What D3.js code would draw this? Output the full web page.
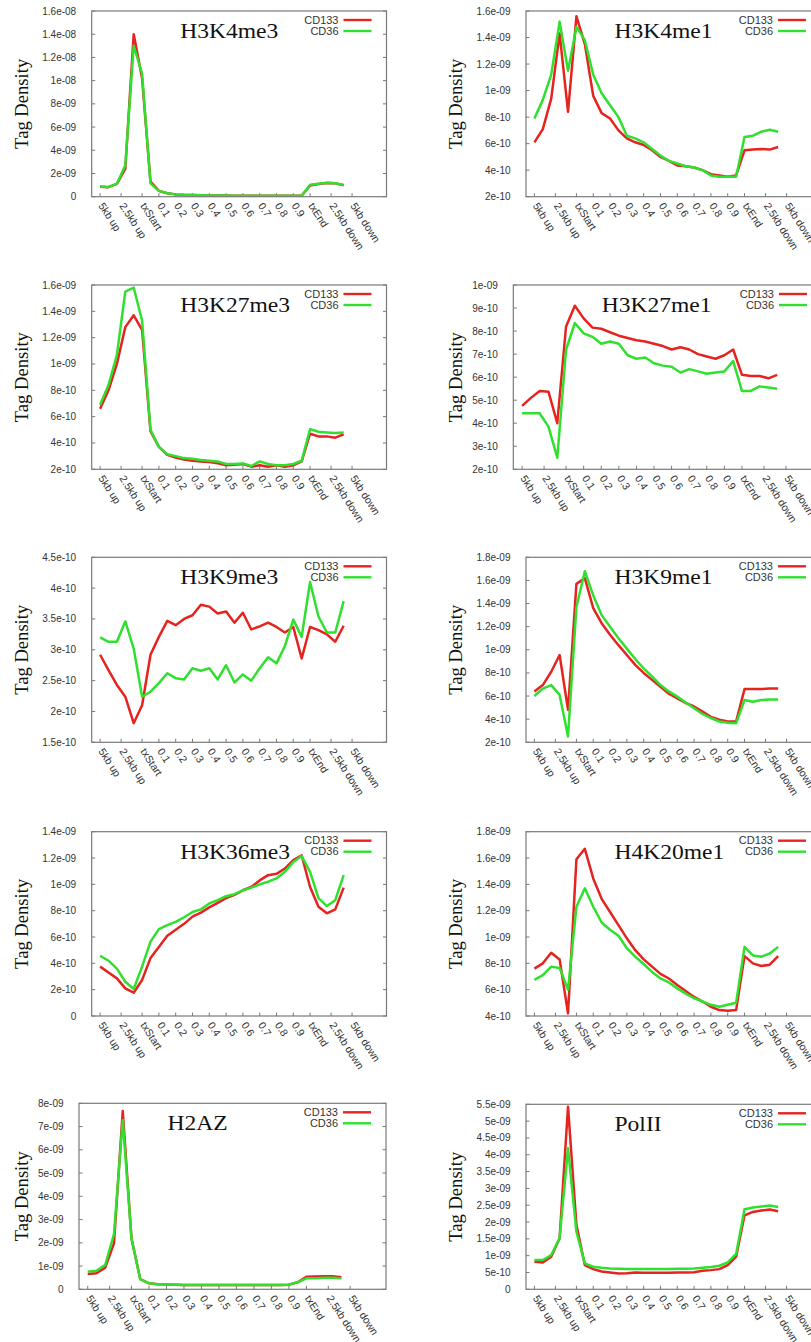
<!DOCTYPE html>
<html>
<head>
<meta charset="utf-8">
<script src="https://cdn.jsdelivr.net/npm/d3@7"></script>
<style>
  html, body { margin: 0; padding: 0; background: #fff; }
  svg { display: block; }
</style>
</head>
<body>
<svg id="chart" width="811" height="1342"></svg>
<script>
// Tag density profiles along gene models: 5 kb upstream (1 kb bins), gene body (20 bins),
// 5 kb downstream (1 kb bins). Values are in units of 1e-10.

const xTickLabels = ["5kb up", "2.5kb up", "txStart", "0.1", "0.2", "0.3", "0.4", "0.5",
  "0.6", "0.7", "0.8", "0.9", "txEnd", "2.5kb down", "5kb down"];
const xTickPositions = [0, 2.5, 5, 7, 9, 11, 13, 15, 17, 19, 21, 23, 25, 27.5, 30];

const seriesNames = ["CD133", "CD36"];
const markNames = ["H3K4me3", "H3K4me1", "H3K27me3", "H3K27me1", "H3K9me3",
  "H3K9me1", "H3K36me3", "H4K20me1", "H2AZ", "PolII"];

const h3k4me3CD133 = [8.6, 8.2, 11, 24, 140, 102, 13, 5, 3, 2, 1.6, 1.4, 1.2, 1.1, 1.0, 1.0, 0.9, 0.9, 0.9, 0.8, 0.8, 0.8, 0.8, 0.8, 0.8, 9.6, 11, 11.8, 11.5, 9.8];
const h3k4me3CD36 = [8.8, 8.3, 11.2, 27, 130, 106, 11.5, 5, 3, 2, 1.6, 1.4, 1.2, 1.1, 1.0, 1.0, 0.9, 0.9, 0.9, 0.8, 0.8, 0.8, 0.8, 0.8, 0.8, 10.2, 11.2, 12, 11.6, 10.2];

const h3k4me1CD133 = [6.1, 7.1, 9.4, 14.3, 8.4, 15.6, 13.5, 9.6, 8.3, 7.9, 7.0, 6.4, 6.1, 5.9, 5.5, 5.0, 4.7, 4.35, 4.3, 4.2, 4.0, 3.7, 3.6, 3.5, 3.6, 5.5, 5.55, 5.6, 5.55, 5.75];
const h3k4me1CD36 = [7.9, 9.3, 11.2, 15.2, 11.5, 14.8, 13.8, 11.2, 9.8, 8.9, 8.0, 6.6, 6.4, 6.1, 5.6, 5.1, 4.7, 4.5, 4.3, 4.2, 4.0, 3.6, 3.5, 3.5, 3.5, 6.5, 6.6, 6.9, 7.05, 6.9];

const h3k27me3CD133 = [6.6, 8.0, 10.0, 12.8, 13.7, 12.6, 4.9, 3.7, 3.1, 2.9, 2.75, 2.65, 2.6, 2.55, 2.45, 2.3, 2.35, 2.4, 2.2, 2.3, 2.2, 2.3, 2.2, 2.3, 2.6, 4.7, 4.5, 4.5, 4.4, 4.65];
const h3k27me3CD36 = [6.9, 8.4, 10.7, 15.5, 15.8, 13.3, 5.0, 3.7, 3.15, 3.0, 2.85, 2.8, 2.7, 2.65, 2.6, 2.4, 2.4, 2.45, 2.25, 2.6, 2.4, 2.3, 2.3, 2.4, 2.65, 5.05, 4.85, 4.8, 4.75, 4.8];

const h3k27me1CD133 = [4.75, 5.1, 5.4, 5.37, 4.0, 8.2, 9.1, 8.55, 8.15, 8.1, 7.95, 7.8, 7.7, 7.6, 7.55, 7.45, 7.35, 7.2, 7.3, 7.2, 7.0, 6.9, 6.8, 6.95, 7.2, 6.1, 6.05, 6.05, 5.95, 6.1];
const h3k27me1CD36 = [4.43, 4.43, 4.43, 3.85, 2.5, 7.2, 8.35, 7.9, 7.75, 7.45, 7.55, 7.45, 6.95, 6.8, 6.85, 6.6, 6.5, 6.45, 6.2, 6.35, 6.25, 6.15, 6.2, 6.25, 6.7, 5.4, 5.4, 5.6, 5.55, 5.5];

const h3k9me3CD133 = [2.92, 2.67, 2.43, 2.24, 1.81, 2.1, 2.92, 3.21, 3.47, 3.4, 3.5, 3.56, 3.73, 3.7, 3.59, 3.62, 3.44, 3.6, 3.33, 3.38, 3.44, 3.37, 3.28, 3.37, 2.86, 3.37, 3.32, 3.25, 3.13, 3.39];
const h3k9me3CD36 = [3.2, 3.13, 3.13, 3.46, 3.02, 2.24, 2.32, 2.46, 2.62, 2.54, 2.52, 2.7, 2.66, 2.7, 2.52, 2.75, 2.47, 2.6, 2.5, 2.7, 2.88, 2.78, 3.06, 3.49, 3.21, 4.1, 3.54, 3.28, 3.28, 3.79];

const h3k9me1CD133 = [6.4, 6.95, 8.1, 9.55, 4.8, 15.7, 16.2, 13.6, 12.3, 11.3, 10.4, 9.55, 8.7, 8.0, 7.4, 6.8, 6.2, 5.8, 5.4, 5.1, 4.65, 4.2, 3.95, 3.8, 3.8, 6.6, 6.6, 6.6, 6.65, 6.65];
const h3k9me1CD36 = [6.0, 6.65, 6.95, 6.1, 2.5, 13.7, 16.8, 14.7, 13.0, 12.0, 11.0, 10.1, 9.2, 8.4, 7.7, 6.95, 6.4, 5.95, 5.45, 4.95, 4.45, 4.1, 3.8, 3.7, 3.65, 5.65, 5.5, 5.65, 5.7, 5.7];

const h3k36me3CD133 = [3.75, 3.3, 2.86, 2.1, 1.77, 2.73, 4.4, 5.25, 6.1, 6.55, 7.0, 7.55, 7.85, 8.25, 8.6, 8.95, 9.2, 9.55, 9.8, 10.3, 10.7, 10.8, 11.2, 11.85, 12.2, 9.8, 8.3, 7.8, 8.1, 9.75];
const h3k36me3CD36 = [4.58, 4.2, 3.6, 2.6, 2.05, 3.75, 5.65, 6.6, 6.9, 7.15, 7.5, 7.9, 8.1, 8.55, 8.8, 9.1, 9.25, 9.55, 9.75, 10.0, 10.2, 10.45, 10.95, 11.7, 12.15, 10.95, 8.95, 8.35, 8.8, 10.7];

const h4k20me1CD133 = [7.6, 8.0, 8.8, 8.3, 4.2, 15.9, 16.7, 14.45, 12.9, 11.9, 10.9, 9.9, 9.0, 8.3, 7.75, 7.2, 6.85, 6.35, 5.9, 5.45, 5.1, 4.7, 4.45, 4.4, 4.45, 8.55, 8.0, 7.8, 7.9, 8.55];
const h4k20me1CD36 = [6.75, 7.1, 7.75, 7.65, 6.0, 12.3, 13.7, 12.3, 11.1, 10.55, 10.1, 9.15, 8.5, 7.95, 7.35, 6.85, 6.55, 6.1, 5.7, 5.35, 5.1, 4.85, 4.7, 4.85, 5.0, 9.25, 8.6, 8.5, 8.75, 9.25];

const h2azCD133 = [6.6, 6.9, 9.3, 19.8, 76.7, 21.9, 4.4, 2.6, 2.2, 2.1, 2.0, 1.9, 1.9, 1.9, 1.8, 1.8, 1.8, 1.8, 1.8, 1.8, 1.8, 1.8, 1.8, 2.0, 3.0, 5.4, 5.5, 5.6, 5.6, 5.2];
const h2azCD36 = [7.6, 8.0, 10.5, 23.7, 72.8, 21.9, 4.4, 2.6, 2.2, 2.1, 2.0, 1.9, 1.9, 1.9, 1.8, 1.8, 1.8, 1.8, 1.8, 1.8, 1.8, 1.8, 1.8, 2.0, 3.0, 4.7, 4.7, 5.0, 5.0, 4.7];

const polIICD133 = [8.2, 8.0, 9.7, 15.2, 54.3, 19.1, 7.2, 6.0, 5.3, 5.0, 4.7, 4.8, 5.0, 4.9, 4.9, 4.9, 4.9, 5.0, 5.0, 5.1, 5.5, 5.7, 6.0, 7.2, 9.7, 22.0, 23.0, 23.4, 23.7, 23.2];
const polIICD36 = [8.7, 8.7, 10.2, 15.2, 41.9, 17.1, 7.7, 6.7, 6.4, 6.2, 6.1, 6.0, 6.0, 6.0, 6.0, 6.0, 6.0, 6.1, 6.1, 6.2, 6.4, 6.6, 7.0, 8.0, 10.5, 23.8, 24.3, 24.6, 24.9, 24.5];

// y tick labels per panel (first and last give the axis range)
const yTicksH3K4me3 = ["0", "2e-09", "4e-09", "6e-09", "8e-09", "1e-08", "1.2e-08", "1.4e-08", "1.6e-08"];
const yTicksH3K4me1 = ["2e-10", "4e-10", "6e-10", "8e-10", "1e-09", "1.2e-09", "1.4e-09", "1.6e-09"];
const yTicksH3K27me3 = ["2e-10", "4e-10", "6e-10", "8e-10", "1e-09", "1.2e-09", "1.4e-09", "1.6e-09"];
const yTicksH3K27me1 = ["2e-10", "3e-10", "4e-10", "5e-10", "6e-10", "7e-10", "8e-10", "9e-10", "1e-09"];
const yTicksH3K9me3 = ["1.5e-10", "2e-10", "2.5e-10", "3e-10", "3.5e-10", "4e-10", "4.5e-10"];
const yTicksH3K9me1 = ["2e-10", "4e-10", "6e-10", "8e-10", "1e-09", "1.2e-09", "1.4e-09", "1.6e-09", "1.8e-09"];
const yTicksH3K36me3 = ["0", "2e-10", "4e-10", "6e-10", "8e-10", "1e-09", "1.2e-09", "1.4e-09"];
const yTicksH4K20me1 = ["4e-10", "6e-10", "8e-10", "1e-09", "1.2e-09", "1.4e-09", "1.6e-09", "1.8e-09"];
const yTicksH2AZ = ["0", "1e-09", "2e-09", "3e-09", "4e-09", "5e-09", "6e-09", "7e-09", "8e-09"];
const yTicksPolII = ["0", "5e-10", "1e-09", "1.5e-09", "2e-09", "2.5e-09", "3e-09", "3.5e-09", "4e-09", "4.5e-09", "5e-09", "5.5e-09"];

const panelSeries = [
  [h3k4me3CD133, h3k4me3CD36], [h3k4me1CD133, h3k4me1CD36],
  [h3k27me3CD133, h3k27me3CD36], [h3k27me1CD133, h3k27me1CD36],
  [h3k9me3CD133, h3k9me3CD36], [h3k9me1CD133, h3k9me1CD36],
  [h3k36me3CD133, h3k36me3CD36], [h4k20me1CD133, h4k20me1CD36],
  [h2azCD133, h2azCD36], [polIICD133, polIICD36]
];
const panelYTicks = [yTicksH3K4me3, yTicksH3K4me1, yTicksH3K27me3, yTicksH3K27me1,
  yTicksH3K9me3, yTicksH3K9me1, yTicksH3K36me3, yTicksH4K20me1, yTicksH2AZ, yTicksPolII];

// ---- layout: plot frame of each panel (px) ----
const frames = [
  { l: 91.7, r: 386.5, t: 11, b: 196.7 },
  { l: 526, r: 821, t: 11, b: 196.7 },
  { l: 91.7, r: 386.5, t: 285, b: 469.3 },
  { l: 513.3, r: 822, t: 285, b: 469.3 },
  { l: 91.7, r: 386.5, t: 557.3, b: 742.3 },
  { l: 526, r: 821, t: 557.3, b: 742.3 },
  { l: 91.7, r: 386.5, t: 831.7, b: 1016 },
  { l: 526, r: 821, t: 831.7, b: 1016 },
  { l: 79, r: 386, t: 1103.3, b: 1289.3 },
  { l: 526, r: 821, t: 1104.3, b: 1289.3 }
];
const yLabelX = [27.5, 461.5];   // baseline of the rotated axis title per column
const colors = ["#e5231f", "#2fe02f"];
const xDomain = [-1, 34.1];
const UNIT = 1e-10;

const svg = d3.select("#chart");
const sans = "'Liberation Sans', Arial, Helvetica, sans-serif";
const serif = "'Liberation Serif', 'Times New Roman', serif";

markNames.forEach((name, p) => {
  const f = frames[p];
  const ticks = panelYTicks[p];
  const tickVals = ticks.map(s => parseFloat(s) / UNIT);
  const x = d3.scaleLinear().domain(xDomain).range([f.l, f.r]);
  const y = d3.scaleLinear().domain([tickVals[0], tickVals[tickVals.length - 1]]).range([f.b, f.t]);
  const g = svg.append("g").attr("class", "panel");

  const clipId = "clip" + p;
  g.append("clipPath").attr("id", clipId)
    .append("rect").attr("x", f.l).attr("y", f.t).attr("width", f.r - f.l).attr("height", f.b - f.t);

  // inward ticks (left, mirrored right, bottom)
  const tickLen = 3.5;
  const tickG = g.append("g").attr("stroke", "#777").attr("stroke-width", 1);
  tickVals.forEach(v => {
    tickG.append("line").attr("x1", f.l).attr("x2", f.l + tickLen).attr("y1", y(v)).attr("y2", y(v));
    tickG.append("line").attr("x1", f.r).attr("x2", f.r - tickLen).attr("y1", y(v)).attr("y2", y(v));
  });
  xTickPositions.forEach(v => {
    tickG.append("line").attr("x1", x(v)).attr("x2", x(v)).attr("y1", f.b).attr("y2", f.b - tickLen);
  });

  // y tick labels
  g.append("g").selectAll("text").data(ticks).join("text")
    .attr("x", f.l - 15.5)
    .attr("y", (d, i) => y(tickVals[i]))
    .attr("dy", "0.35em")
    .attr("text-anchor", "end")
    .attr("font-family", sans).attr("font-size", 10).attr("fill", "#333")
    .text(d => d);

  // x tick labels, slanted
  g.append("g").selectAll("text").data(xTickLabels).join("text")
    .attr("transform", (d, i) => `translate(${x(xTickPositions[i]) - 2},${f.b + 9}) rotate(57)`)
    .attr("text-anchor", "start")
    .attr("font-family", sans).attr("font-size", 10.5).attr("fill", "#333")
    .text(d => d);

  // series
  const line = d3.line().x((d, i) => x(i)).y(d => y(d));
  const lines = g.append("g").attr("clip-path", `url(#${clipId})`);
  panelSeries[p].forEach((vals, s) => {
    lines.append("path").datum(vals)
      .attr("d", line)
      .attr("fill", "none")
      .attr("stroke", colors[s])
      .attr("stroke-width", 2.5)
      .attr("stroke-linejoin", "round");
  });

  // frame
  g.append("rect").attr("x", f.l).attr("y", f.t).attr("width", f.r - f.l).attr("height", f.b - f.t)
    .attr("fill", "none").attr("stroke", "#7a7a7a").attr("stroke-width", 1.2);

  // title (slightly wide serif face)
  g.append("text")
    .attr("transform", `translate(${f.l + 88.5},${f.t + 27}) scale(1.07,1)`)
    .attr("font-family", serif).attr("font-size", 22).attr("fill", "#111")
    .text(name);

  // legend
  seriesNames.forEach((sn, s) => {
    const ly = f.t + 9 + s * 11;
    g.append("text").attr("x", f.r - 48).attr("y", ly + 3.5)
      .attr("text-anchor", "end")
      .attr("font-family", sans).attr("font-size", 11).attr("fill", "#333")
      .text(sn);
    g.append("line").attr("x1", f.r - 43).attr("x2", f.r - 15).attr("y1", ly).attr("y2", ly)
      .attr("stroke", colors[s]).attr("stroke-width", 2.4);
  });

  // axis title
  const col = f.l < 400 ? 0 : 1;
  g.append("text")
    .attr("transform", `translate(${yLabelX[col]},${(f.t + f.b) / 2}) rotate(-90)`)
    .attr("text-anchor", "middle")
    .attr("font-family", serif).attr("font-size", 18.6).attr("fill", "#111")
    .text("Tag Density");
});
</script>
</body>
</html>
